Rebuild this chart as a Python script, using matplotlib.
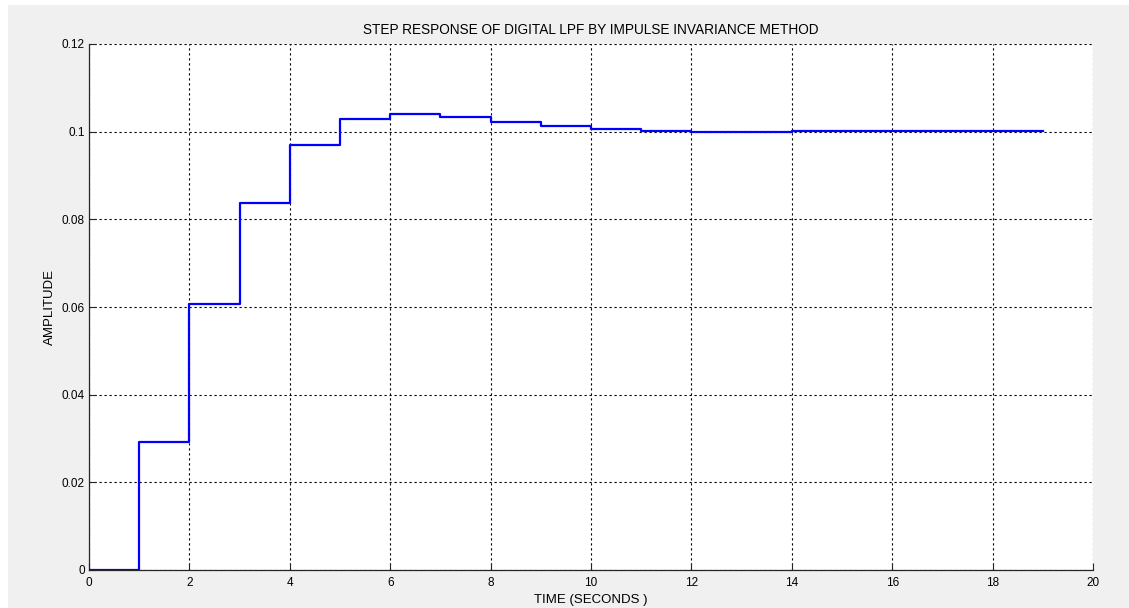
import numpy as np
import matplotlib.pyplot as plt
from matplotlib.patches import Rectangle

# sample index (seconds) and step response values
n = np.arange(0, 20)
step_resp = [0.0, 0.0293, 0.0606, 0.0838, 0.0970, 0.1029, 0.1041, 0.1034,
             0.1022, 0.1013, 0.1005, 0.1002, 0.0999, 0.0999, 0.1001, 0.1001,
             0.1001, 0.1001, 0.1001, 0.1001]
x_ticks = [0, 2, 4, 6, 8, 10, 12, 14, 16, 18, 20]
y_ticks = [0, 0.02, 0.04, 0.06, 0.08, 0.1, 0.12]
y_tick_labels = ['0', '0.02', '0.04', '0.06', '0.08', '0.1', '0.12']

plt.rcParams['font.family'] = ['Liberation Sans', 'DejaVu Sans']

fig = plt.figure(figsize=(11.29, 6.08), dpi=100)
fig.patch.set_facecolor('white')
# grey window background
fig.patches.append(Rectangle((8/1129, 0), 1, 603/608, transform=fig.transFigure,
                             facecolor='#f0f0f0', edgecolor='none', zorder=-10))

ax = fig.add_axes([89/1129, 38/608, 1004/1129, 526/608])
ax.step(n, step_resp, where='post', color='#0000ff', linewidth=1.6, zorder=3)

ax.set_xlim(0, 20)
ax.set_ylim(0, 0.12)
ax.set_xticks(x_ticks)
ax.set_xticklabels([str(t) for t in x_ticks])
ax.set_yticks(y_ticks)
ax.set_yticklabels(y_tick_labels)
ax.grid(True, color='black', linestyle=(0, (2, 2.5)), linewidth=0.8)

for s in ['top', 'right']:
    ax.spines[s].set_visible(False)
for s in ['left', 'bottom']:
    ax.spines[s].set_color('#262626')
    ax.spines[s].set_linewidth(0.9)

ax.tick_params(direction='in', length=5, labelsize=8.5, colors='#262626',
               labelcolor='black')
ax.tick_params(axis='x', pad=5)
ax.tick_params(axis='y', pad=3)

ax.set_title('STEP RESPONSE OF DIGITAL LPF BY IMPULSE INVARIANCE METHOD',
             fontsize=9.8, pad=7.5)
ax.set_xlabel('TIME (SECONDS )', fontsize=9.5, labelpad=4)
ax.set_ylabel('AMPLITUDE', fontsize=9.5, labelpad=4)

fig.savefig('out.png', dpi=100)
